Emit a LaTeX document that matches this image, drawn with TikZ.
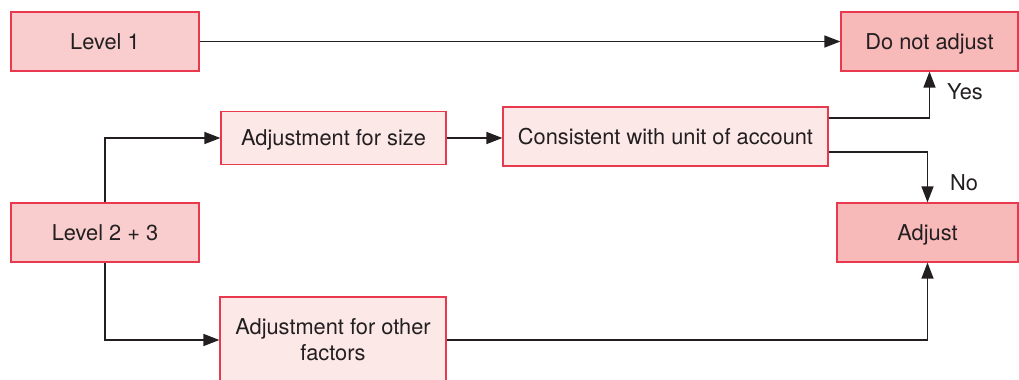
\documentclass[tikz,border=0pt]{standalone}
\usepackage{fontspec}
\setmainfont{TeX Gyre Heros}
\usepackage{xcolor}
\usepackage{tikz}
\usetikzlibrary{positioning,arrows.meta,calc}

\definecolor{boxred}{HTML}{E8394F}
\definecolor{levfill}{HTML}{F9CDCD}
\definecolor{outfill}{HTML}{F8B9B9}
\definecolor{stepfill}{HTML}{FDE8E8}
\definecolor{inkgray}{HTML}{231F20}

\begin{document}
\begin{tikzpicture}[
  x=0.5pt, y=-0.5pt,
  font=\fontsize{10.9}{13}\selectfont,
  text=inkgray,
  >={Triangle[length=8pt,width=6pt]},
  box/.style    ={rectangle, draw=boxred, line width=0.6pt, align=center,
                  inner sep=0pt, minimum height=29.5pt, text depth=0pt},
  level/.style  ={box, fill=levfill, minimum width=94pt},
  outcome/.style={box, fill=outfill},
  stepbox/.style={box, fill=stepfill},
  arr/.style    ={->, line width=0.7pt, draw=inkgray},
  lbl/.style    ={inner sep=0pt},
]
\useasboundingbox (0,0) rectangle (1019,380);

\def\rA{41.5}
\def\rB{137}
\def\rC{232.5}
\def\rD{340}

% ---------- LEFT: levels ----------
\node[level] (lvlone)   at (105,\rA) {Level 1};
\node[level] (lvltwo)   at (105,\rC) {Level 2 + 3};

% ---------- MIDDLE: adjustments ----------
\node[stepbox, minimum width=112.5pt, minimum height=26.5pt] (size) at (333.5,138) {Adjustment for size};
\node[stepbox, minimum width=113pt, minimum height=43pt] (other) at (333,\rD) {Adjustment for other\\factors};
\node[stepbox, minimum width=162.5pt] (consistent) at (665.5,136.5) {Consistent with unit of account};

% ---------- RIGHT: outcomes ----------
\node[outcome, minimum width=88.5pt] (noadj) at (929.5,\rA) {Do not adjust};
\node[outcome, minimum width=90.5pt] (adj)   at (927.5,\rC) {Adjust};

% ---------- ARROWS ----------
\draw[arr] (lvlone) -- (noadj);
\draw[arr] (lvltwo.north) |- (size.west);
\draw[arr] (lvltwo.south) |- (other.west);
\draw[arr] (size) -- (size -| consistent.west);
\draw[arr] ($(consistent.east)+(0,-18.5)$) -| (noadj.south);
\draw[arr] ($(consistent.east)+(0,15.5)$) -| (adj.north);
\draw[arr] (other.east) -| (adj.south);

% ---------- decision labels ----------
\node[lbl] (yes) at (965,92)  {Yes};
\node[lbl] (no)  at (964,183) {No};

\end{tikzpicture}
\end{document}
